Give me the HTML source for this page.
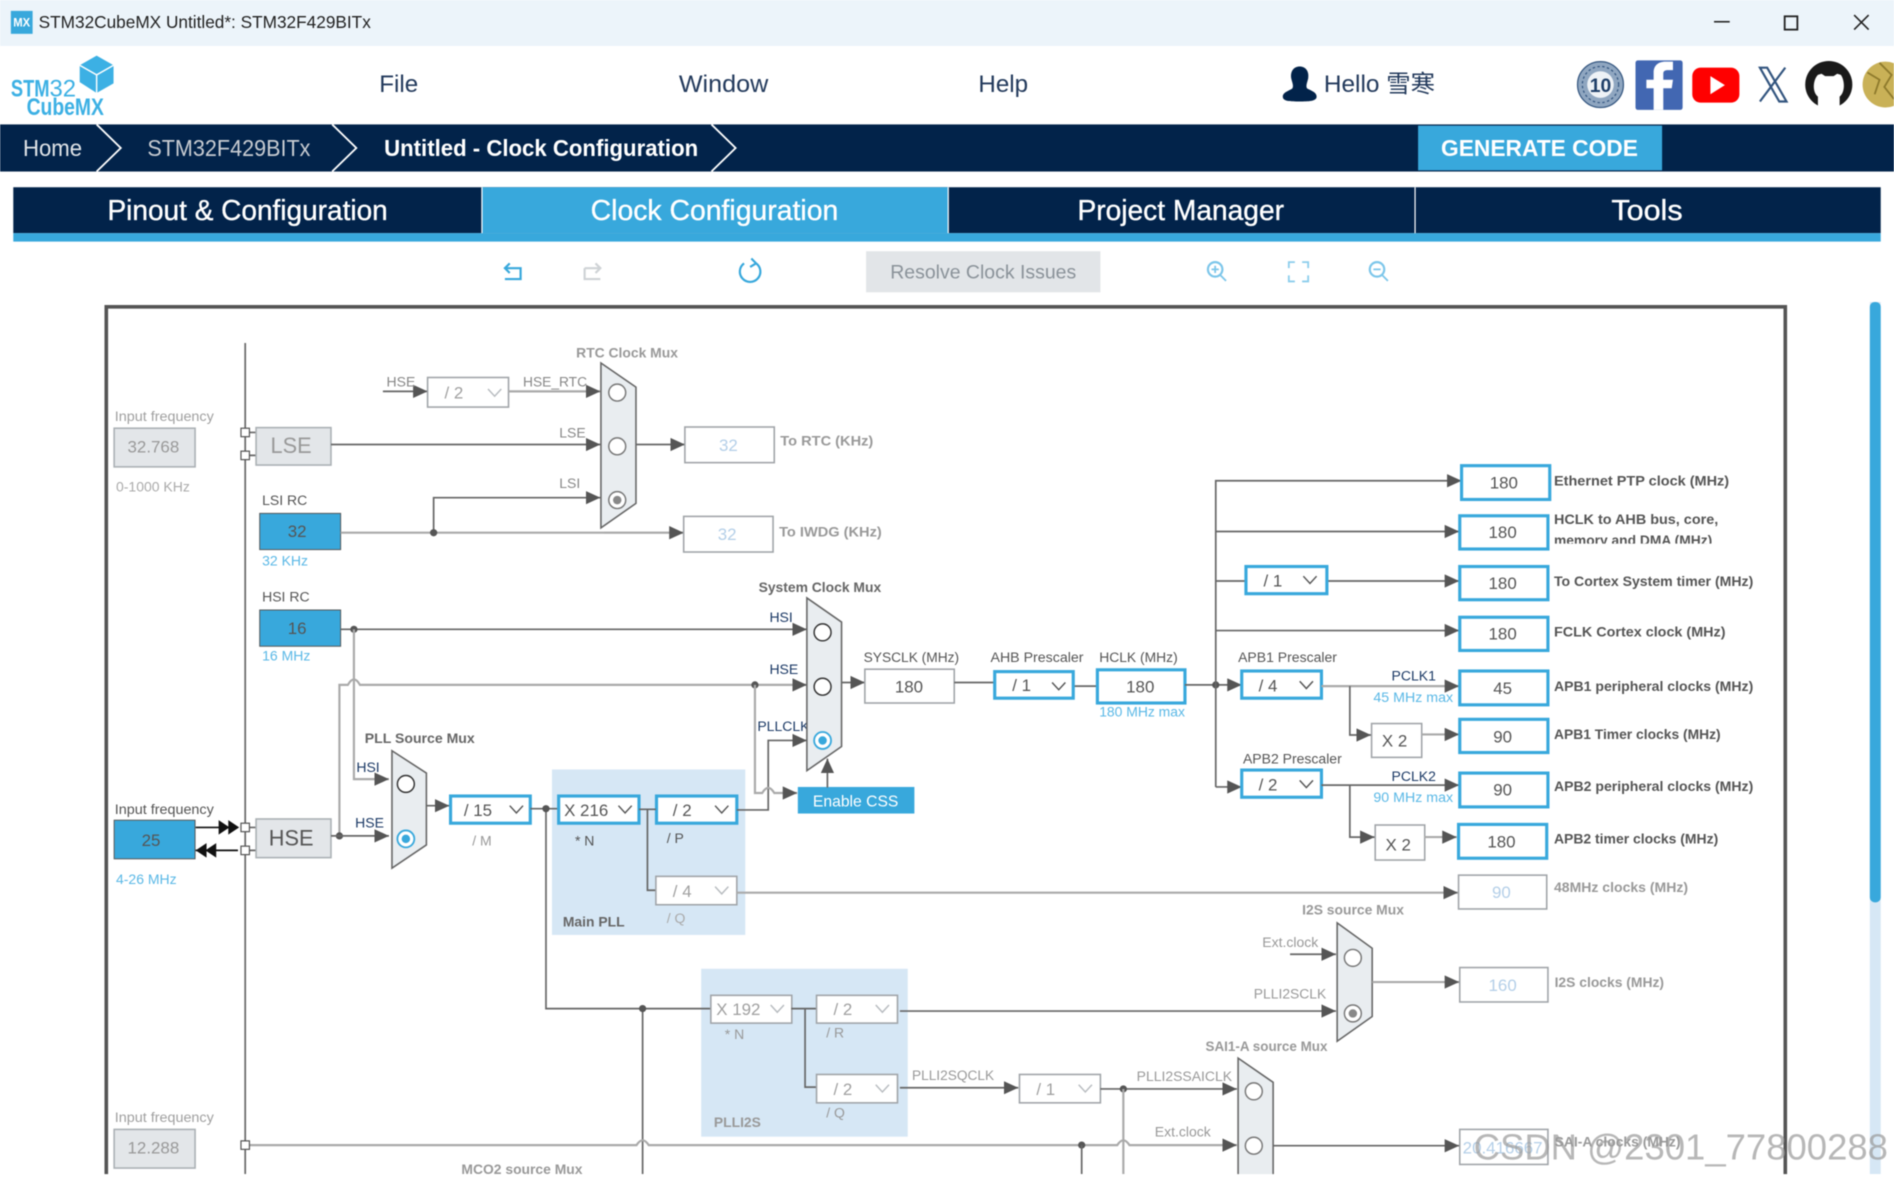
<!DOCTYPE html>
<html><head><meta charset="utf-8"><title>STM32CubeMX Clock Configuration</title>
<style>
html,body{margin:0;padding:0;background:#fff;width:1894px;height:1181px;overflow:hidden}
svg.root{display:block;filter:blur(.4px)}
text{font-family:"Liberation Sans","Noto Sans CJK SC",sans-serif;font-size:11.600px;fill:#8d8d8d}
.l{fill:none;stroke:#666;stroke-width:1.4}
.g{fill:none;stroke:#aaa;stroke-width:1.8}
.a{marker-end:url(#ar)}
.d{fill:#555}
.bb{fill:#fff;stroke:#38a8dc;stroke-width:2.6}
.gb{fill:#fff;stroke:#a0a4a8;stroke-width:1.3}
.fb{fill:#e3e6e9;stroke:#aab0b4;stroke-width:1.3}
.bl{fill:#38a8dc;stroke:#555;stroke-width:.8}
.ch{fill:none;stroke:#555;stroke-width:1.2}
.chg{fill:none;stroke:#b8bcc0;stroke-width:1.2}
.mux{fill:#e9edf0;stroke:#666;stroke-width:1.3}
.c{fill:#fff;stroke:#777;stroke-width:1.2}
.cb{fill:#fff;stroke:#38a8dc;stroke-width:1.5}
.v{font-size:14px;fill:#555;text-anchor:middle}
.vp{font-size:14px;fill:#b4cfe8;text-anchor:middle}
.s{font-size:14px;fill:#555}
.sg{font-size:14px;fill:#a0a0a0}
.t{fill:#555}
.tb{fill:#666;font-weight:bold;font-size:11.500px}
.tbg{fill:#999;font-weight:bold;font-size:11.500px}
.dk{fill:#1c3a66}
.b{fill:#5ab8e6}
.nv{fill:#fff;font-size:24px;text-anchor:middle}
</style></head><body>
<svg class="root" xmlns="http://www.w3.org/2000/svg" width="1894" height="1181" viewBox="0 0 1568 977.7">
<defs>
<marker id="ar" markerUnits="userSpaceOnUse" markerWidth="13" markerHeight="12" refX="12" refY="5.5" orient="auto"><path d="M0 0L12 5.5L0 11Z" fill="#555"/></marker>
</defs>
<rect width="1568" height="978" fill="#fff"/>
<!-- title bar -->
<rect width="1568" height="38" fill="#ecf4fa"/>
<rect x="9" y="9" width="18" height="19" fill="#38a8dc"/>
<text x="11" y="22" style="font-size:10px;font-weight:bold;fill:#fff" textLength="14" lengthAdjust="spacingAndGlyphs">MX</text>
<text x="32" y="23" style="font-size:14.500px;fill:#222" textLength="275" lengthAdjust="spacingAndGlyphs">STM32CubeMX Untitled*: STM32F429BITx</text>
<path d="M1419 18H1432" stroke="#222" stroke-width="1.3"/>
<rect x="1477.500" y="13.500" width="10.500" height="11" fill="none" stroke="#222" stroke-width="1.5"/>
<path d="M1535 12.500L1547 24.500M1547 12.500L1535 24.500" stroke="#222" stroke-width="1.3"/>
<!-- logo -->
<path d="M80 46L94 54V69L80 77L66 68V54Z" fill="#3cb0e4"/><path d="M66 54L80 62L94 54M80 62V77" stroke="#fff" stroke-width="1.2" fill="none"/>
<text x="9" y="80" style="font-size:20px;font-weight:bold;fill:#3cb0e4" textLength="32" lengthAdjust="spacingAndGlyphs">STM</text>
<text x="41" y="80" style="font-size:20px;fill:#3cb0e4" textLength="22" lengthAdjust="spacingAndGlyphs">32</text>
<text x="22" y="95" style="font-size:20px;font-weight:bold;fill:#3cb0e4" textLength="40" lengthAdjust="spacingAndGlyphs">Cube</text>
<text x="62" y="95" style="font-size:20px;font-weight:bold;fill:#3cb0e4" textLength="24" lengthAdjust="spacingAndGlyphs">MX</text>
<!-- menu -->
<text x="314" y="76" style="font-size:20px;fill:#233a5c">File</text>
<text x="562" y="76" style="font-size:20px;fill:#233a5c" textLength="74" lengthAdjust="spacingAndGlyphs">Window</text>
<text x="810" y="76" style="font-size:20px;fill:#233a5c">Help</text>
<path d="M1076 55C1081 55 1084 59 1083 65C1082 69 1081 71 1082 73C1085 75 1090 76 1090 80C1090 84 1083 84 1076 84C1068 84 1062 84 1062 80C1062 76 1068 75 1070 73C1071 71 1070 69 1069 65C1068 59 1071 55 1076 55Z" fill="#02234a"/>
<text x="1096" y="76" style="font-size:20px;fill:#233a5c" textLength="92" lengthAdjust="spacingAndGlyphs">Hello 雪寒</text>
<circle cx="1325" cy="70" r="19" fill="#8fa6c0" stroke="#33557f"/><circle cx="1325" cy="70" r="15" fill="none" stroke="#33557f" stroke-dasharray="2 2"/><circle cx="1325" cy="70" r="11" fill="#eef2f6"/>
<text x="1325" y="76" style="font-size:16px;font-weight:bold;fill:#1f3f68;text-anchor:middle">10</text>
<rect x="1354" y="50" width="39" height="41" rx="2" fill="#4267b2"/>
<path d="M1377 91V73H1384L1385 66H1377V61C1377 59 1378 58 1381 58H1385V51H1379C1372 51 1369 55 1369 60V66H1363V73H1369V91Z" fill="#fff"/>
<rect x="1401" y="56" width="39" height="29" rx="7" fill="#f00"/><path d="M1416 63L1428 70.500L1416 78Z" fill="#fff"/>
<path d="M1457 56H1463L1479 84H1473ZM1478 56L1457 84" fill="none" stroke="#33557f" stroke-width="1.8"/>
<circle cx="1514" cy="70" r="19.500" fill="#1a1a1a"/><path d="M1505 90V80C1500 76 1501 66 1505 62L1508 61L1511 63H1518L1521 61L1524 62C1527 66 1528 76 1523 80V90Z" fill="#fff"/>
<circle cx="1561" cy="70" r="19" fill="#c9b157"/><path d="M1546 60L1556 66L1552 78M1556 52L1566 62L1560 72L1568 82" fill="none" stroke="#8e7a2c" stroke-width="1.5"/>
<!-- nav -->
<rect y="103" width="1568" height="39" fill="#02234a"/>
<path d="M80 103L100 122.500L80 142M275 103L295 122.500L275 142M589 103L609 122.500L589 142" fill="none" stroke="#fff" stroke-width="1.500"/>
<text x="19" y="129" style="font-size:19.500px;fill:#e0e4e8" textLength="49" lengthAdjust="spacingAndGlyphs">Home</text>
<text x="122" y="129" style="font-size:19.500px;fill:#c8ccd2" textLength="135" lengthAdjust="spacingAndGlyphs">STM32F429BITx</text>
<text x="318" y="129" style="font-size:19.500px;font-weight:bold;fill:#fff" textLength="260" lengthAdjust="spacingAndGlyphs">Untitled - Clock Configuration</text>
<rect x="1174" y="104" width="202" height="37" fill="#38a8dc"/>
<text x="1193" y="129" style="font-size:19.500px;font-weight:bold;fill:#fff" textLength="163" lengthAdjust="spacingAndGlyphs">GENERATE CODE</text>
<!-- tabs -->
<rect x="11" y="155" width="1546" height="38" fill="#02234a"/>
<rect x="399" y="155" width="386" height="38" fill="#38a8dc"/>
<rect x="11" y="193" width="1546" height="7" fill="#38a8dc"/>
<path d="M399 155V193M785 155V193M1171.500 155V193" stroke="#fff" stroke-width="1"/>
<text x="205" y="182" class="nv" style="stroke:#fff;stroke-width:.3" textLength="232" lengthAdjust="spacingAndGlyphs">Pinout &amp; Configuration</text>
<text x="591.500" y="182" class="nv" style="stroke:#fff;stroke-width:.3" textLength="205" lengthAdjust="spacingAndGlyphs">Clock Configuration</text>
<text x="977.500" y="182" class="nv" style="stroke:#fff;stroke-width:.3" textLength="171" lengthAdjust="spacingAndGlyphs">Project Manager</text>
<text x="1363.500" y="182" class="nv" style="stroke:#fff;stroke-width:.3" textLength="59" lengthAdjust="spacingAndGlyphs">Tools</text>
<!-- toolbar -->
<g fill="none" stroke="#38a8dc" stroke-width="1.800">
<path d="M418 222H431V231H418M422 218L418 222L422 226"/>
<path d="M484 222H497M493 218L497 222L493 226M484 222V231H497" stroke="#cfd3d6"/>
<path d="M616 218A8.500 8.500 0 1 0 626 218M626 218L622 214M626 218L621 221"/>
<circle cx="1006" cy="223" r="6" stroke="#7cc6ea"/><path d="M1010.500 228L1015 232.500M1003 223H1009M1006 220V226" stroke="#7cc6ea" stroke-width="1.500"/>
<path d="M1067 222V217H1072M1078 217H1083V222M1083 228V233H1078M1072 233H1067V228" stroke="#8ccdec" stroke-width="1.500"/>
<circle cx="1140" cy="223" r="6" stroke="#7cc6ea"/><path d="M1144.500 228L1149 232.500M1137 223H1143" stroke="#7cc6ea" stroke-width="1.500"/>
</g>
<rect x="717" y="208" width="194" height="34" fill="#e2e5e8"/>
<text x="737" y="230.500" style="font-size:16px;fill:#8a9299" textLength="154" lengthAdjust="spacingAndGlyphs">Resolve Clock Issues</text>
<!-- frame & scrollbar -->
<rect x="1548" y="250" width="9" height="722" fill="#d6e7f5"/>
<rect x="1548" y="250" width="9" height="497" rx="4" fill="#38a8dc"/>
<rect x="88" y="254" width="1390" height="730" fill="none" stroke="#555" stroke-width="3"/>
<!-- PLL backgrounds -->
<rect x="457" y="637" width="160" height="137" fill="#d6e7f5"/>
<rect x="580.500" y="802" width="171" height="139" fill="#d6e7f5"/>
<!-- bus -->
<path class="l" d="M203 284V972"/>
<path class="l" d="M203 358H212M203 377H212M203 685H212M203 704H212"/>
<!-- input blocks -->
<text x="95" y="348.500" style="fill:#a0a0a0" textLength="82" lengthAdjust="spacingAndGlyphs">Input frequency</text>
<rect x="94.500" y="354.500" width="67" height="32" class="fb"/><text x="127" y="374.500" class="v" style="fill:#999">32.768</text>
<text x="96" y="407" style="fill:#aaa">0-1000 KHz</text>
<rect x="212" y="354" width="62" height="31" class="fb"/><text x="241" y="375" style="font-size:18px;fill:#999;text-anchor:middle">LSE</text>
<text x="217" y="418" class="t">LSI RC</text>
<rect x="215" y="425" width="67" height="30" class="bl"/><text x="246" y="444.500" class="v">32</text>
<text x="217" y="468" class="b">32 KHz</text>
<text x="217" y="498" class="t">HSI RC</text>
<rect x="215" y="505" width="67" height="30" class="bl"/><text x="246" y="525" class="v">16</text>
<text x="217" y="547" class="b">16 MHz</text>
<text x="95" y="674" class="t" textLength="82" lengthAdjust="spacingAndGlyphs">Input frequency</text>
<rect x="94.500" y="679" width="67" height="32" class="bl"/><text x="125" y="700.500" class="v">25</text>
<text x="96" y="732" class="b">4-26 MHz</text>
<rect x="212" y="678" width="62" height="32" class="fb"/><text x="241" y="700" style="font-size:18px;fill:#555;text-anchor:middle">HSE</text>
<text x="95" y="929" style="fill:#a0a0a0" textLength="82" lengthAdjust="spacingAndGlyphs">Input frequency</text>
<rect x="94.500" y="935" width="67" height="32" class="fb"/><text x="127" y="955" class="v" style="fill:#999">12.288</text>
<path d="M162 685H197M197 704H162" stroke="#111" stroke-width="1.400"/>
<path d="M181 679L190 685L181 691ZM189 679L198 685L189 691ZM179 698L170 704L179 710ZM171 698L162 704L171 710Z" fill="#111"/>
<!-- RTC -->
<path class="l a" d="M317 324H354"/><text x="320" y="320" style="fill:#888">HSE</text>
<rect x="354" y="312.500" width="67" height="24.500" class="gb"/><text x="368" y="330" class="sg">/ 2</text><path class="chg" d="M404 322L409.500 328L415 322"/>
<path class="g a" d="M421 324H497"/><text x="433" y="320" style="fill:#888" textLength="53" lengthAdjust="spacingAndGlyphs">HSE_RTC</text>
<path class="l a" d="M274 368H497"/><text x="463" y="362" style="fill:#888">LSE</text>
<path class="g" d="M282 441H566"/><path class="a" d="M500 441H566" fill="none" stroke="#aaa" stroke-width="1.500"/><path class="l a" d="M359 441V412H497"/><circle cx="359" cy="441" r="3" class="d"/>
<text x="463" y="404" style="fill:#888">LSI</text>
<path class="mux" d="M497.500 300.500L526.500 320.500V416.700L497.500 437Z"/>
<circle cx="511" cy="325" r="7" class="c"/><circle cx="511" cy="369.500" r="7" class="c"/><circle cx="511" cy="414" r="7" class="c"/><circle cx="511" cy="414" r="3.500" fill="#888"/>
<text x="477" y="296" class="tbg">RTC Clock Mux</text>
<path class="l a" d="M527 368H567"/>
<rect x="567" y="353.500" width="74" height="29.500" class="gb"/><text x="603" y="373.500" class="vp">32</text><text x="646" y="369" class="tbg" textLength="77" lengthAdjust="spacingAndGlyphs">To RTC (KHz)</text>
<rect x="566" y="427.500" width="74" height="29.500" class="gb"/><text x="602" y="447" class="vp">32</text><text x="645" y="444" class="tbg" textLength="85" lengthAdjust="spacingAndGlyphs">To IWDG (KHz)</text>
<!-- HSI/HSE lines -->
<path class="l a" d="M282 521H668"/><circle cx="293" cy="521" r="3" class="d"/>
<path class="g a" d="M281 692V567H288Q293 558 298 567H668"/><circle cx="625" cy="567" r="3" class="d"/><circle cx="281" cy="692" r="3" class="d"/>
<path class="l a" d="M274 692H322"/>
<path class="g a" d="M293 521V645H322"/>
<text x="295" y="639" class="dk">HSI</text><text x="294" y="685" class="dk">HSE</text>
<text x="637" y="515" class="dk">HSI</text><text x="637" y="558" class="dk">HSE</text><text x="627" y="605" class="dk">PLLCLK</text>
<text x="302" y="615" class="tb" textLength="91" lengthAdjust="spacingAndGlyphs">PLL Source Mux</text>
<path class="mux" d="M324.500 621.500L353 640V699.500L324.500 718.700Z"/>
<circle cx="336" cy="649" r="7" class="c" style="stroke:#333"/><circle cx="336" cy="694.500" r="7" class="cb"/><circle cx="336" cy="694.500" r="3.500" fill="#38a8dc"/>
<path class="l a" d="M353 667H372"/>
<rect x="373" y="659" width="66" height="22.500" class="bb"/><text x="384" y="675.500" class="s">/ 15</text><path class="ch" d="M422 667L427.500 673L433 667"/>
<text x="391" y="700" style="fill:#999">/ M</text>
<path class="l" d="M439 669.500H462M452 669.500V835H588M532 835V972"/><circle cx="452" cy="669.500" r="3" class="d"/><circle cx="532" cy="835" r="3" class="d"/>
<!-- main pll -->
<rect x="462.500" y="659" width="66.500" height="22.500" class="bb"/><text x="467" y="675.500" class="s">X 216</text><path class="ch" d="M512 667L517.500 673L523 667"/>
<rect x="543.500" y="659" width="66.500" height="22.500" class="bb"/><text x="557" y="675.500" class="s">/ 2</text><path class="ch" d="M592 667L597.500 673L603 667"/>
<text x="476" y="700" class="t">* N</text><text x="552" y="698" class="t">/ P</text>
<path class="l" d="M529 670H543M536 670V737H543"/>
<rect x="543" y="725.500" width="67" height="23.500" class="gb"/><text x="557" y="742.500" class="sg">/ 4</text><path class="chg" d="M592 734L597.500 740L603 734"/>
<text x="552" y="764" style="fill:#aaa">/ Q</text><text x="466" y="767" class="tb">Main PLL</text>
<path class="g a" d="M610 739H1207"/>
<path class="l a" d="M610 670.500H636V613H668"/>
<path class="g a" d="M625 567V656.500H631Q636 648 641 656.500H660"/>
<rect x="660.500" y="651.500" width="96.500" height="22" fill="#38a8dc"/><text x="673" y="667.500" style="font-size:13px;fill:#fff">Enable CSS</text>
<path class="mux" d="M668 495L696.700 515V618L668 638Z"/>
<circle cx="681" cy="523.500" r="7" class="c" style="stroke:#333"/><circle cx="681" cy="568.500" r="7" class="c" style="stroke:#333"/><circle cx="681" cy="613" r="7" class="cb"/><circle cx="681" cy="613" r="3.500" fill="#38a8dc"/>
<path class="l a" d="M685 652V628"/>
<text x="628" y="490" class="tb">System Clock Mux</text>
<!-- sysclk chain -->
<path class="l a" d="M697 565H716"/>
<text x="715" y="548" class="t" textLength="79" lengthAdjust="spacingAndGlyphs">SYSCLK (MHz)</text>
<rect x="716" y="554" width="74" height="28" class="gb"/><text x="752.500" y="573.500" class="v">180</text>
<path class="l" d="M790 565H823M889 568H909"/>
<text x="820" y="548" class="t" textLength="77" lengthAdjust="spacingAndGlyphs">AHB Prescaler</text>
<rect x="823.500" y="556" width="65" height="22" class="bb"/><text x="838" y="572" class="s">/ 1</text><path class="ch" d="M871 565L876.500 571L882 565"/>
<text x="910" y="548" class="t" textLength="65" lengthAdjust="spacingAndGlyphs">HCLK (MHz)</text>
<rect x="908.500" y="554.500" width="72.500" height="27.500" class="bb"/><text x="944" y="573.500" class="v">180</text>
<text x="910" y="593" class="b" textLength="71" lengthAdjust="spacingAndGlyphs">180 MHz max</text>
<path class="l a" d="M981 567H1028"/><circle cx="1006.500" cy="567" r="3" class="d"/>
<path class="l a" d="M1006.500 651.500V398H1210"/>
<path class="l a" d="M1006.500 651.500H1028"/>
<path class="l a" d="M1006.500 440H1208"/>
<path class="l" d="M1006.500 481H1031"/><path class="l a" d="M1098 481H1208"/>
<rect x="1031.500" y="469" width="67" height="22.500" class="bb"/><text x="1046" y="485.500" class="s">/ 1</text><path class="ch" d="M1079 477L1084.500 483L1090 477"/>
<path class="l a" d="M1006.500 522H1208"/>
<!-- APB -->
<text x="1025" y="548" class="t">APB1 Prescaler</text>
<rect x="1028" y="555.500" width="66" height="22.500" class="bb"/><text x="1042" y="572.500" class="s">/ 4</text><path class="ch" d="M1076 564L1081.500 570L1087 564"/>
<path class="g a" d="M1094 568H1208"/><path class="l a" d="M1117.500 568V608.500H1135"/>
<text x="1152" y="563.500" class="dk">PCLK1</text><text x="1137" y="581" class="b" textLength="66" lengthAdjust="spacingAndGlyphs">45 MHz max</text>
<rect x="1135.500" y="599" width="41.500" height="28" class="gb"/><text x="1144" y="618" class="s">X 2</text>
<path class="g a" d="M1177 608H1208"/>
<text x="1029" y="632" class="t">APB2 Prescaler</text>
<rect x="1028" y="637.500" width="66" height="22.500" class="bb"/><text x="1042" y="654.500" class="s">/ 2</text><path class="ch" d="M1076 646L1081.500 652L1087 646"/>
<path class="l a" d="M1094 650H1208"/><path class="l a" d="M1117.500 650V693H1138"/>
<text x="1152" y="646.500" class="dk">PCLK2</text><text x="1137" y="664" class="b" textLength="66" lengthAdjust="spacingAndGlyphs">90 MHz max</text>
<rect x="1138.500" y="683" width="41" height="29" class="gb"/><text x="1147" y="704" class="s">X 2</text>
<path class="g a" d="M1179 693H1206"/>
<!-- output boxes -->
<rect x="1210" y="385.500" width="73" height="28" class="bb"/><text x="1245" y="404.500" class="v">180</text>
<rect x="1208.500" y="427" width="73" height="27.500" class="bb"/><text x="1244" y="445.500" class="v">180</text>
<rect x="1208.500" y="469" width="73" height="27.500" class="bb"/><text x="1244" y="487.500" class="v">180</text>
<rect x="1208.500" y="511" width="73" height="27.500" class="bb"/><text x="1244" y="529.500" class="v">180</text>
<rect x="1208.500" y="555.500" width="73" height="28" class="bb"/><text x="1244" y="574.500" class="v">45</text>
<rect x="1208.500" y="595.500" width="73" height="27.500" class="bb"/><text x="1244" y="614.500" class="v">90</text>
<rect x="1208.500" y="640" width="73" height="28" class="bb"/><text x="1244" y="658.500" class="v">90</text>
<rect x="1207.500" y="682.500" width="73" height="28" class="bb"/><text x="1243" y="701.500" class="v">180</text>
<rect x="1207.500" y="724.500" width="73" height="28" class="gb"/><text x="1243" y="743.500" class="vp">90</text>
<text x="1286.500" y="402" class="tb" style="fill:#555" textLength="145" lengthAdjust="spacingAndGlyphs">Ethernet PTP clock (MHz)</text>
<text x="1286.500" y="434" class="tb" style="fill:#555" textLength="136" lengthAdjust="spacingAndGlyphs">HCLK to AHB bus, core,</text>
<svg x="1286.500" y="437" width="160" height="13" viewBox="1286.500 437 160 13"><text x="1286.500" y="451" class="tb" style="fill:#555" textLength="131" lengthAdjust="spacingAndGlyphs">memory and DMA (MHz)</text></svg>
<text x="1286.500" y="485" class="tb" style="fill:#555" textLength="165" lengthAdjust="spacingAndGlyphs">To Cortex System timer (MHz)</text>
<text x="1286.500" y="527" class="tb" style="fill:#555" textLength="142" lengthAdjust="spacingAndGlyphs">FCLK Cortex clock (MHz)</text>
<text x="1286.500" y="572" class="tb" style="fill:#555" textLength="165" lengthAdjust="spacingAndGlyphs">APB1 peripheral clocks (MHz)</text>
<text x="1286.500" y="612" class="tb" style="fill:#555" textLength="138" lengthAdjust="spacingAndGlyphs">APB1 Timer clocks (MHz)</text>
<text x="1286.500" y="655" class="tb" style="fill:#555" textLength="165" lengthAdjust="spacingAndGlyphs">APB2 peripheral clocks (MHz)</text>
<text x="1286.500" y="698.500" class="tb" style="fill:#555" textLength="136" lengthAdjust="spacingAndGlyphs">APB2 timer clocks (MHz)</text>
<text x="1286.500" y="738.500" class="tbg" textLength="111" lengthAdjust="spacingAndGlyphs">48MHz clocks (MHz)</text>
<!-- I2S -->
<text x="1078" y="757" class="tbg">I2S source Mux</text>
<path class="mux" d="M1107 764L1136 785V841.500L1107 862Z"/>
<circle cx="1120" cy="793" r="7" class="c"/><circle cx="1120" cy="839" r="7" class="c"/><circle cx="1120" cy="839" r="3.500" fill="#888"/>
<text x="1045" y="784" style="fill:#999">Ext.clock</text><path class="l a" d="M1068 790H1106"/>
<text x="1038" y="826.500" style="fill:#999" textLength="60" lengthAdjust="spacingAndGlyphs">PLLI2SCLK</text><path class="l a" d="M745 837H1106"/>
<path class="g a" d="M1136 813H1208"/>
<rect x="1208.500" y="801" width="73" height="28.500" class="gb"/><text x="1244" y="820.500" class="vp">160</text>
<text x="1287" y="817" class="tbg">I2S clocks (MHz)</text>
<!-- PLLI2S -->
<rect x="588.500" y="824" width="67" height="23" class="gb"/><text x="593" y="840.500" class="sg">X 192</text><path class="chg" d="M638 832L643.500 838L649 832"/>
<text x="600" y="860" style="fill:#999">* N</text>
<path class="l" d="M655 835H676M666.500 835V900H676"/>
<rect x="676" y="824" width="67" height="23" class="gb"/><text x="690" y="840.500" class="sg">/ 2</text><path class="chg" d="M725 832L730.500 838L736 832"/>
<text x="684" y="859" style="fill:#999">/ R</text>
<rect x="676" y="889.500" width="67" height="23.500" class="gb"/><text x="690" y="906.500" class="sg">/ 2</text><path class="chg" d="M725 898L730.500 904L736 898"/>
<text x="684" y="925" style="fill:#999">/ Q</text><text x="591" y="933" class="tbg">PLLI2S</text>
<text x="755" y="894" style="fill:#999" textLength="68" lengthAdjust="spacingAndGlyphs">PLLI2SQCLK</text>
<path class="l a" d="M745 900.500H843"/>
<rect x="844" y="889.500" width="67" height="23.500" class="gb"/><text x="858" y="906.500" class="sg">/ 1</text><path class="chg" d="M893 898L898.500 904L904 898"/>
<path class="l a" d="M911 901.500H1024"/><circle cx="930" cy="901.500" r="3" class="d"/>
<path class="g" d="M930 901.500V972"/>
<text x="941" y="895" style="fill:#999" textLength="79" lengthAdjust="spacingAndGlyphs">PLLI2SSAICLK</text>
<text x="956" y="941" style="fill:#999">Ext.clock</text>
<path class="g a" d="M203 948H527Q532 940 537 948H925Q930 940 935 948H1024"/>
<circle cx="895.500" cy="948" r="3" class="d"/><path class="l" d="M895.500 948V972"/>
<text x="998" y="870" class="tbg" textLength="101" lengthAdjust="spacingAndGlyphs">SAI1-A source Mux</text>
<path class="mux" d="M1025 876L1054 896V990H1025Z"/>
<circle cx="1038" cy="903.500" r="7" class="c"/><circle cx="1038" cy="948.500" r="7" class="c"/>
<path class="l a" d="M1054 948.500H1208"/>
<rect x="1208.500" y="935" width="73" height="29" class="gb"/><text x="1244" y="955" style="font-size:14px;fill:#b4cfe8;text-anchor:middle">20.416667</text>
<text x="1287" y="949" class="tbg">SAI-A clocks (MHz)</text>
<text x="382" y="972" class="tbg">MCO2 source Mux</text>
<!-- bus squares -->
<g fill="#fff" stroke="#555" stroke-width="1"><rect x="199.500" y="354.500" width="7" height="7"/><rect x="199.500" y="373.500" width="7" height="7"/><rect x="199.500" y="681.500" width="7" height="7"/><rect x="199.500" y="700.500" width="7" height="7"/><rect x="199.500" y="944.500" width="7" height="7"/></g>
<!-- bottom mask & watermark -->
<rect x="0" y="972" width="1568" height="6" fill="#fff"/>
<text x="1220" y="960" style="font-size:30px;fill:#999;fill-opacity:.7" textLength="343" lengthAdjust="spacingAndGlyphs">CSDN @2301_77800288</text>
</svg>
</body></html>
